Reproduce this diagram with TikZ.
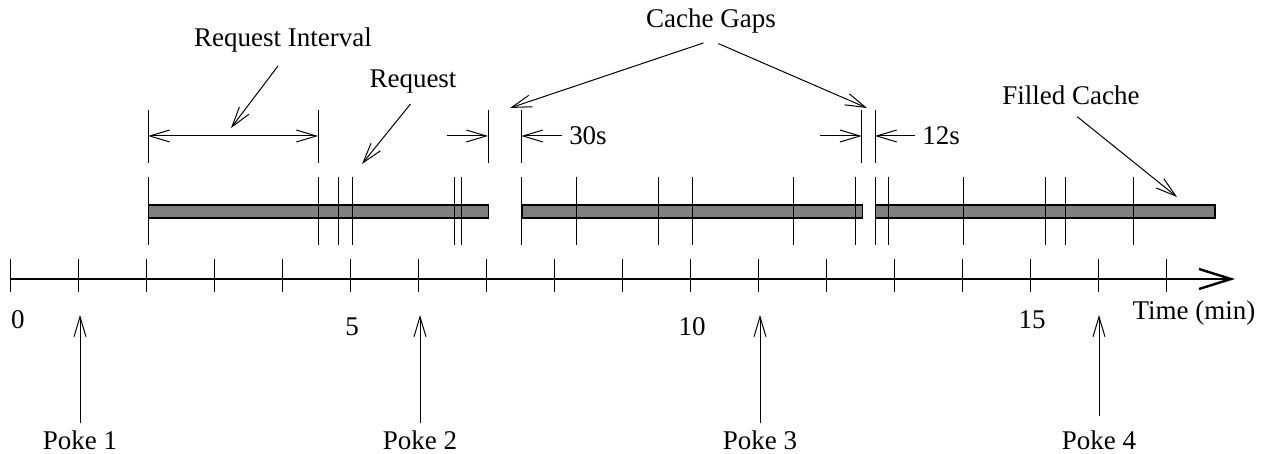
\documentclass[tikz,border=0pt]{standalone}
\usepackage{fontspec}
\setmainfont{Liberation Serif}
\usetikzlibrary{arrows.meta}
\begin{document}
\begin{tikzpicture}[
        x=0.5pt, y=-0.5pt,
        line width=0.5pt,
        >={Straight Barb[length=10pt,width=6pt]},
        font=\fontsize{13.5}{16}\selectfont,
        cache/.style={draw, fill=gray, line width=0.65pt, inner sep=0pt,
                      minimum height=6.5pt, anchor=west}
    ]
    \useasboundingbox (0,0) rectangle (1265,454);

    % Time axis
    \coordinate (origin) at (10,279);
    \coordinate (axisend) at (1235,279);
    \draw [line width=1.2pt, -{Straight Barb[length=16pt,width=10pt]}] (origin) -- (axisend);
    \foreach \m in {0,...,17}
        \draw (10+68*\m,259) -- (10+68*\m,292);
    \node (n0) at (18,320) {0};
    \node (n5) at (352,327) {5};
    \node (n10) at (692,327) {10};
    \node (n15) at (1032,320) {15};
    \node (time) at (1194,313) {Time (min)};

    % Pokes
    \foreach \i/\x/\s in {1/80/0pt,2/420/0pt,3/760/0pt,4/1099/3.5pt} {
        \node (poke\i) at (\x,440) {Poke \i};
        \coordinate (pk\i) at (\x,315);
        \draw [->, shorten <=\s] (poke\i.north) -- (pk\i);
    }

    % Cache blocks
    \node [cache, minimum width=170pt] (cache1) at (148,211.5) {};
    \node [cache, minimum width=170.2pt] (cache2) at (521.3,211.5) {};
    \node [cache, minimum width=169.6pt] (cache3) at (875,211.5) {};
    \foreach \x in {148,318,338,352,454,461,521.3,576,658,692,793,855,875,888,963,1045,1065,1133}
        \draw (\x,177) -- (\x,245);

    % Interval marks
    \foreach \x in {148,318,488,521.3,861.7,875}
        \draw (\x,110) -- (\x,163);
    \coordinate (iv1) at (148,136);
    \coordinate (iv2) at (318,136);
    \coordinate (g1a) at (447,136);
    \coordinate (g1b) at (488,136);
    \coordinate (g1c) at (521.3,136);
    \coordinate (g2a) at (820,136);
    \coordinate (g2b) at (861.7,136);
    \coordinate (g2c) at (875,136);
    \node (s30) at (588,136) {30s};
    \node (s12) at (941,136) {12s};
    \draw [<->] (iv1) -- (iv2);
    \draw [->] (g1a) -- (g1b);
    \draw [->] (s30) -- (g1c);
    \draw [->] (g2a) -- (g2b);
    \draw [->] (s12) -- (g2c);

    % Labels
    \node (reqint) at (283,40) {Request Interval};
    \node (req) at (413,82) {Request};
    \node (gaps) at (711,21) {Cache Gaps};
    \node (filled) at (1071,95) {Filled Cache};
    \coordinate (ivpt) at (231,128);
    \coordinate (reqpt) at (362,164);
    \coordinate (gap1) at (510,108);
    \coordinate (gap2) at (867,108);
    \coordinate (fillpt) at (1177,197);

    % Connections
    \draw [->, shorten <=4pt] (reqint.south) -- (ivpt);
    \draw [->, shorten <=2pt] (req.south) -- (reqpt);
    \draw [->, shorten <=4pt] (gaps.south) -- (gap1);
    \draw [->, shorten <=4pt] (gaps.south) -- (gap2);
    \draw [->, shorten <=4pt] (filled.south) -- (fillpt);
\end{tikzpicture}
\end{document}
